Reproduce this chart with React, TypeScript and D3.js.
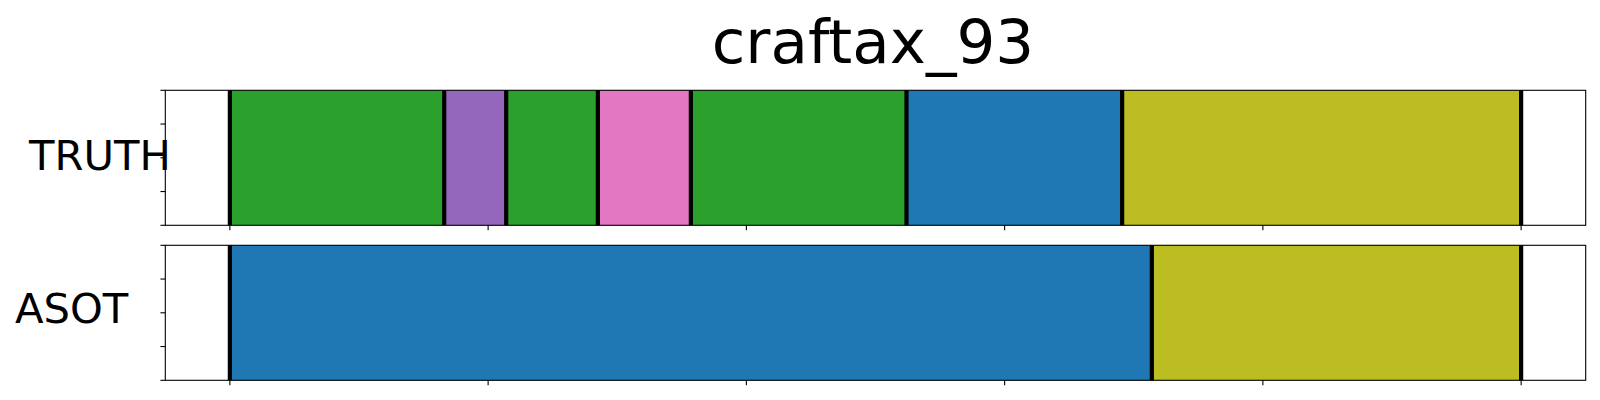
import * as d3 from "d3";

// segment boundaries (frame position, 0..100) and colours per row
const rows = ["TRUTH", "ASOT"];
const truthEnds = [16.6, 21.4, 28.5, 35.7, 52.4, 69.1, 100];
const truthColors = ["#2ca02c", "#9467bd", "#2ca02c", "#e377c2", "#2ca02c", "#1f77b4", "#bcbd22"];
const asotEnds = [71.4, 100];
const asotColors = ["#1f77b4", "#bcbd22"];
const xTicks = [0, 20, 40, 60, 80, 100];
const yTicks = [0, 0.25, 0.5, 0.75, 1];
const title = "craftax_93";

const W = 1600;
const H = 400;
const left = 165.3;
const right = 1585.7;
const panels = [
  { top: 90.3, bottom: 225.3, labelX: 29, baseline: 170 },
  { top: 245.3, bottom: 380.3, labelX: 15, baseline: 323.3 },
];
const font = "DejaVu Sans, sans-serif";

const segs = (ends: number[], colors: string[]) =>
  ends.map((e, i) => ({ start: i === 0 ? 0 : ends[i - 1], end: e, color: colors[i] }));

const data = [segs(truthEnds, truthColors), segs(asotEnds, asotColors)];

export default function App() {
  const x = d3.scaleLinear().domain([-5, 105]).range([left, right]);
  const tickLen = 4.86;

  return (
    <div style={{ position: "fixed", left: 0, top: 0 }}>
      <svg width={W} height={H} style={{ display: "block", background: "#fff" }}>
        <text x={873} y={63.3} fontSize={61.1} fontFamily={font} textAnchor="middle">
          {title}
        </text>
        {data.map((row, r) => {
          const p = panels[r];
          const y = d3.scaleLinear().domain([0, 1]).range([p.bottom, p.top]);
          const bounds = [0, ...row.map((s) => s.end)];
          return (
            <g key={rows[r]}>
              {row.map((s, i) => (
                <rect
                  key={i}
                  x={x(s.start)}
                  y={y(1)}
                  width={x(s.end) - x(s.start)}
                  height={y(0) - y(1)}
                  fill={s.color}
                />
              ))}
              {bounds.map((b, i) => (
                <line key={"b" + i} x1={x(b)} x2={x(b)} y1={y(1)} y2={y(0)} stroke="#000" strokeWidth={4.2} />
              ))}
              <rect
                x={left}
                y={p.top}
                width={right - left}
                height={p.bottom - p.top}
                fill="none"
                stroke="#000"
                strokeWidth={1.1}
              />
              {xTicks.map((t) => (
                <line key={"x" + t} x1={x(t)} x2={x(t)} y1={p.bottom} y2={p.bottom + tickLen} stroke="#000" strokeWidth={1.1} />
              ))}
              {yTicks.map((t) => (
                <line key={"y" + t} x1={left - tickLen} x2={left} y1={y(t)} y2={y(t)} stroke="#000" strokeWidth={1.1} />
              ))}
              <text x={p.labelX} y={p.baseline} fontSize={41.7} fontFamily={font}>
                {rows[r]}
              </text>
            </g>
          );
        })}
      </svg>
    </div>
  );
}
